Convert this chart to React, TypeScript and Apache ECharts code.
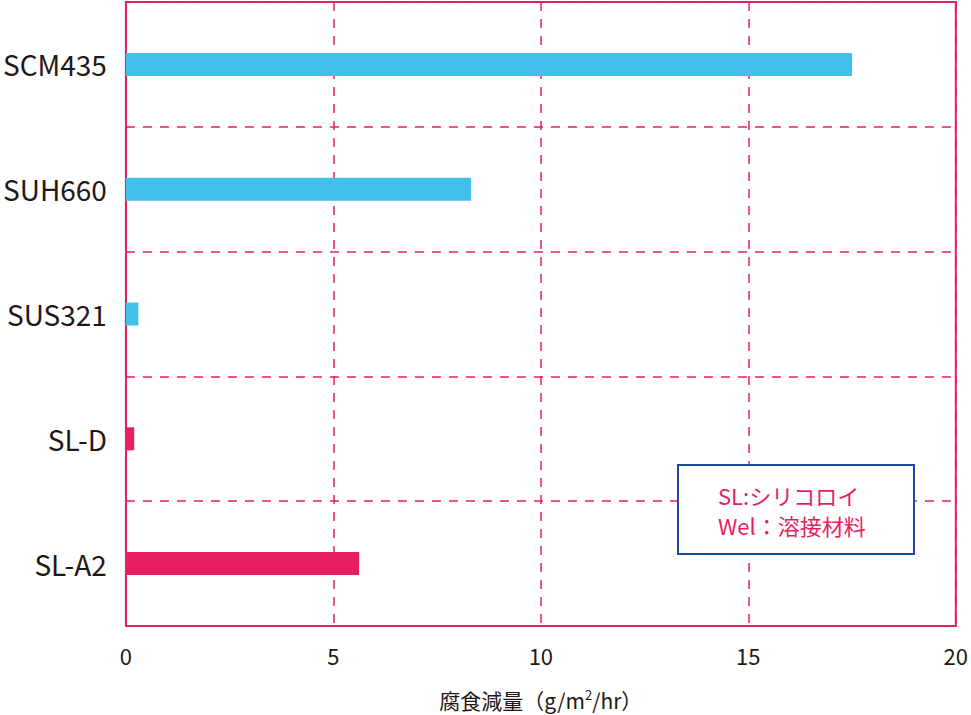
import React, { useEffect, useRef } from "react";
import * as echarts from "echarts";

const categories = ["SCM435", "SUH660", "SUS321", "SL-D", "SL-A2"];
const values = [17.5, 8.32, 0.3, 0.2, 5.62];
const barColors = ["#43BFEC", "#43BFEC", "#43BFEC", "#E61F62", "#E61F62"];
const xTicks = [0, 5, 10, 15, 20];
const legendLines = ["SL:シリコロイ", "Wel：溶接材料"];

const PINK = "#E61F62";
const FONT = "'Noto Sans CJK JP', 'Noto Sans', sans-serif";

export default function App() {
  const ref = useRef<HTMLDivElement>(null);
  useEffect(() => {
    document.body.style.margin = "0";
    const chart = echarts.init(ref.current!, null, { renderer: "svg" });
    chart.setOption({
      animation: false,
      textStyle: { fontFamily: FONT },
      grid: {
        left: 125,
        right: 11,
        top: 2,
        bottom: 86,
        show: true,
        borderColor: PINK,
        borderWidth: 2,
        containLabel: false,
      },
      xAxis: {
        type: "value",
        min: xTicks[0],
        max: xTicks[xTicks.length - 1],
        interval: 5,
        axisLine: { show: true, lineStyle: { color: PINK, width: 2 } },
        axisTick: { show: false },
        axisLabel: { color: "#231815", fontSize: 22, margin: 18, fontFamily: FONT },
        splitLine: {
          show: true,
          lineStyle: { color: PINK, type: [9, 8], width: 1.5 },
        },
        name: "{a|腐食減量（g/m}{sup|2}{a|/hr）}",
        nameLocation: "middle",
        nameGap: 62,
        nameTextStyle: {
          rich: {
            a: { fontSize: 21, color: "#231815", fontFamily: FONT },
            sup: { fontSize: 13, color: "#231815", verticalAlign: "top", padding: [0, 0, 10, 0], fontFamily: FONT },
          },
        },
      },
      yAxis: {
        type: "category",
        data: categories,
        inverse: true,
        axisLine: { show: true, lineStyle: { color: PINK, width: 2 } },
        axisTick: { show: false },
        axisLabel: { color: "#231815", fontSize: 28, margin: 19, fontFamily: FONT },
        splitLine: {
          show: true,
          lineStyle: { color: PINK, type: [9, 8], width: 1.5 },
        },
      },
      series: [
        {
          type: "bar",
          barWidth: 23,
          data: values.map((v, i) => ({ value: v, itemStyle: { color: barColors[i] } })),
        },
      ],
      graphic: [
        {
          type: "group",
          left: 677,
          top: 464,
          z: 100,
          children: [
            {
              type: "rect",
              z: 100,
              shape: { x: 0, y: 0, width: 236, height: 89 },
              style: { fill: "#fff", stroke: "#1F4A9A", lineWidth: 2 },
            },
            {
              type: "text",
              z: 101,
              x: 40,
              y: 30,
              style: {
                text: legendLines[0],
                fill: PINK,
                fontSize: 22,
                fontFamily: FONT,
                verticalAlign: "middle",
              },
            },
            {
              type: "text",
              z: 101,
              x: 40,
              y: 60,
              style: {
                text: legendLines[1],
                fill: PINK,
                fontSize: 22,
                fontFamily: FONT,
                verticalAlign: "middle",
              },
            },
          ],
        },
      ],
    });
    return () => chart.dispose();
  }, []);
  return <div ref={ref} style={{ width: 971, height: 715 }} />;
}
